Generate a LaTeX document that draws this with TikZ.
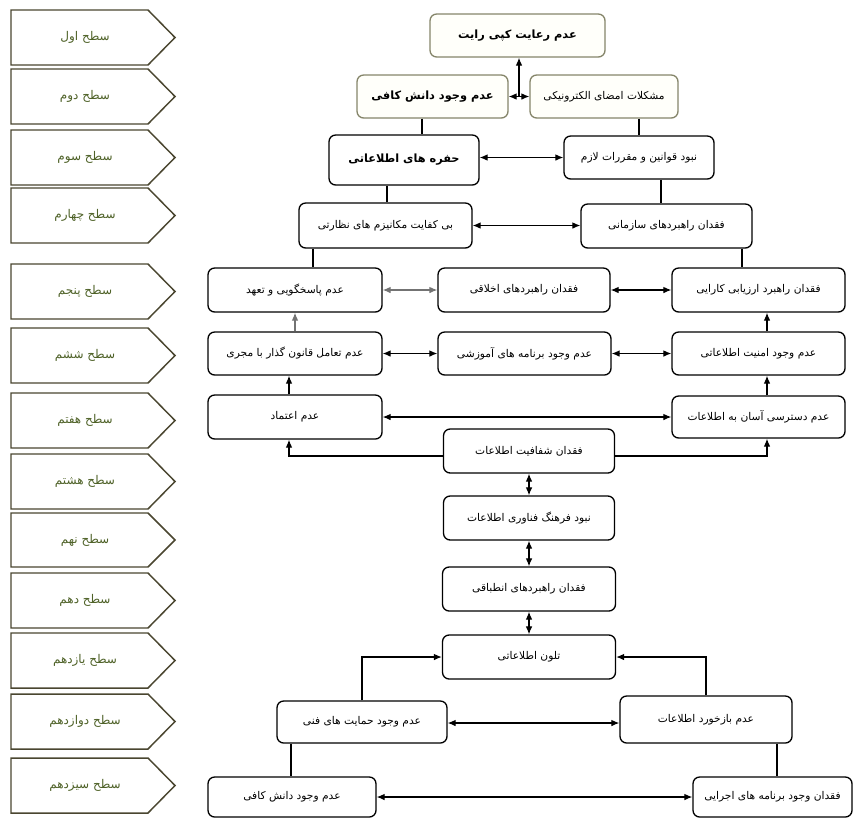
\documentclass[tikz,border=0pt]{standalone}
\usepackage{fontspec}
\usetikzlibrary{arrows.meta,calc}
\TeXXeTstate=1
\newfontfamily\fa[Script=Arabic]{DejaVu Sans}
\definecolor{lvlborder}{HTML}{4A4630}
\definecolor{lvltxt}{HTML}{4F6228}
\definecolor{topborder}{HTML}{85856A}
\definecolor{topfill}{HTML}{FFFFFA}
\newcommand\lvl[4]{%
  \draw[lvlline] (11,#2) -- (148,#2) -- (175,{(#2+#3)/2}) -- (148,#3) -- (11,#3) -- cycle;
  \node[lvltext] (#1) at (85,{(#2+#3)/2}) {#4};}
\newcommand\bx[7][]{\node[box,#1,minimum width=#5*0.75pt,minimum height=#6*0.75pt] (#2) at (#3,#4) {#7};}
\begin{document}
\begin{tikzpicture}[x=0.75pt,y=-0.75pt,
  lvlline/.style={draw=lvlborder,line width=1.1pt,fill=white,line join=miter},
  lvltext/.style={text=lvltxt,font=\fa\fontsize{9}{10}\selectfont,inner sep=0pt},
  box/.style={draw=black,line width=1pt,rounded corners=5pt,fill=white,inner sep=0pt,align=center,font=\fa\fontsize{8}{9}\selectfont},
  topbox/.style={draw=topborder,fill=topfill},
  bold/.style={font=\fa\bfseries\fontsize{8.5}{10}\selectfont},
  ln/.style={line width=0.9pt,draw=black},
  gln/.style={line width=0.9pt,draw=black!55},
  >={Latex[length=6pt,width=5pt]}]
\useasboundingbox (0,0) rectangle (856,819);
% level markers
\lvl{L1}{10}{65}{\beginR سطح اول\endR}
\lvl{L2}{69}{124}{\beginR سطح دوم\endR}
\lvl{L3}{130}{185}{\beginR سطح سوم\endR}
\lvl{L4}{188}{243}{\beginR سطح چهارم\endR}
\lvl{L5}{264}{319}{\beginR سطح پنجم\endR}
\lvl{L6}{328}{383}{\beginR سطح ششم\endR}
\lvl{L7}{393}{448}{\beginR سطح هفتم\endR}
\lvl{L8}{454}{509}{\beginR سطح هشتم\endR}
\lvl{L9}{513}{567}{\beginR سطح نهم\endR}
\lvl{L10}{573}{628}{\beginR سطح دهم\endR}
\lvl{L11}{633}{688}{\beginR سطح یازدهم\endR}
\lvl{L12}{694}{749}{\beginR سطح دوازدهم\endR}
\lvl{L13}{758}{813}{\beginR سطح سیزدهم\endR}
% boxes
\bx[topbox,bold]{rayat}{517.5}{35.5}{175}{43}{\beginR عدم رعایت کپی رایت\endR}
\bx[topbox,bold]{dk1}{432.5}{96.5}{151}{43}{\beginR عدم وجود دانش کافی\endR}
\bx[topbox]{ems}{604}{96.5}{148}{43}{\beginR مشکلات امضای الکترونیکی\endR}
\bx[bold]{hofre}{404}{160}{150}{50}{\beginR حفره های اطلاعاتی\endR}
\bx{nabood}{639}{157.5}{150}{43}{\beginR نبود قوانین و مقررات لازم\endR}
\bx{bikef}{385.5}{225.5}{173}{45}{\beginR بی کفایت مکانیزم های نظارتی\endR}
\bx{sazmani}{666.5}{226}{171}{44}{\beginR فقدان راهبردهای سازمانی\endR}
\bx{pasokh}{295}{290}{174}{44}{\beginR عدم پاسخگویی و تعهد\endR}
\bx{akhlaghi}{524}{290}{172}{44}{\beginR فقدان راهبردهای اخلاقی\endR}
\bx{arzyabi}{758.5}{290}{173}{44}{\beginR فقدان راهبرد ارزیابی کارایی\endR}
\bx{tamol}{295}{353.5}{174}{43}{\beginR عدم تعامل قانون گذار با مجری\endR}
\bx{amoozesh}{524.5}{353.5}{173}{43}{\beginR عدم وجود برنامه های آموزشی\endR}
\bx{amniat}{758.5}{353.5}{173}{43}{\beginR عدم وجود امنیت اطلاعاتی\endR}
\bx{etemad}{295}{417}{174}{44}{\beginR عدم اعتماد\endR}
\bx{dastresi}{758.5}{417}{173}{42}{\beginR عدم دسترسی آسان به اطلاعات\endR}
\bx{shafaf}{529}{451}{171}{44}{\beginR فقدان شفافیت اطلاعات\endR}
\bx{farhang}{529}{518}{171}{44}{\beginR نبود فرهنگ فناوری اطلاعات\endR}
\bx{entebagh}{529}{589}{173}{44}{\beginR فقدان راهبردهای انطباقی\endR}
\bx{talon}{529}{657}{173}{44}{\beginR تلون اطلاعاتی\endR}
\bx{hemayat}{362}{722}{170}{42}{\beginR عدم وجود حمایت های فنی\endR}
\bx{bazkhord}{706}{719.5}{172}{47}{\beginR عدم بازخورد اطلاعات\endR}
\bx{danesh}{292}{797}{168}{40}{\beginR عدم وجود دانش کافی\endR}
\bx{ejraei}{772.5}{797}{159}{40}{\beginR فقدان وجود برنامه های اجرایی\endR}
% helper coordinates
\coordinate (xa) at (422,0);
\coordinate (xb) at (639,0);
\coordinate (xc) at (387,0);
\coordinate (xd) at (661,0);
\coordinate (xe) at (313,0);
\coordinate (xf) at (742,0);
\coordinate (xg) at (289,0);
\coordinate (xh) at (767,0);
\coordinate (xi) at (291,0);
\coordinate (xj) at (777,0);
\coordinate (ys) at (0,456);
\coordinate (yh) at (0,723);
% connectors
\draw[ln,<->] (dk1.east) -- (ems.west);
\coordinate (tm) at ($(dk1.east)!0.5!(ems.west)$);
\draw[ln,->] (tm) -- (tm |- rayat.south);
\draw[ln] (dk1.south -| xa) -- (hofre.north -| xa);
\draw[ln] (ems.south -| xb) -- (nabood.north -| xb);
\draw[ln,<->] (hofre.east |- nabood.west) -- (nabood.west);
\draw[ln] (hofre.south -| xc) -- (bikef.north -| xc);
\draw[ln] (nabood.south -| xd) -- (sazmani.north -| xd);
\draw[ln,<->] (bikef.east) -- (sazmani.west |- bikef.east);
\draw[ln] (bikef.south -| xe) -- (pasokh.north -| xe);
\draw[ln] (sazmani.south -| xf) -- (arzyabi.north -| xf);
\draw[gln,<->] (pasokh.east) -- (akhlaghi.west);
\draw[ln,<->] (akhlaghi.east) -- (arzyabi.west);
\draw[gln,->] (tamol.north) -- (pasokh.south);
\draw[ln,<->] (tamol.east) -- (amoozesh.west);
\draw[ln,<->] (amoozesh.east) -- (amniat.west);
\draw[ln,->] (amniat.north -| xh) -- (arzyabi.south -| xh);
\draw[ln,->] (etemad.north -| xg) -- (tamol.south -| xg);
\draw[ln,->] (dastresi.north -| xh) -- (amniat.south -| xh);
\draw[ln,<->] (etemad.east) -- (dastresi.west |- etemad.east);
\draw[ln,->] (shafaf.west |- ys) -- (xg |- ys) -- (etemad.south -| xg);
\draw[ln,->] (shafaf.east |- ys) -- (xh |- ys) -- (dastresi.south -| xh);
\draw[ln,<->] (shafaf.south) -- (farhang.north);
\draw[ln,<->] (farhang.south) -- (entebagh.north);
\draw[ln,<->] (entebagh.south) -- (talon.north);
\draw[ln,->] (hemayat.north) -- (hemayat.north |- talon.west) -- (talon.west);
\draw[ln,->] (bazkhord.north) -- (bazkhord.north |- talon.east) -- (talon.east);
\draw[ln,<->] (hemayat.east |- yh) -- (bazkhord.west |- yh);
\draw[ln] (hemayat.south -| xi) -- (danesh.north -| xi);
\draw[ln] (bazkhord.south -| xj) -- (ejraei.north -| xj);
\draw[ln,<->] (danesh.east) -- (ejraei.west);
\end{tikzpicture}
\end{document}
